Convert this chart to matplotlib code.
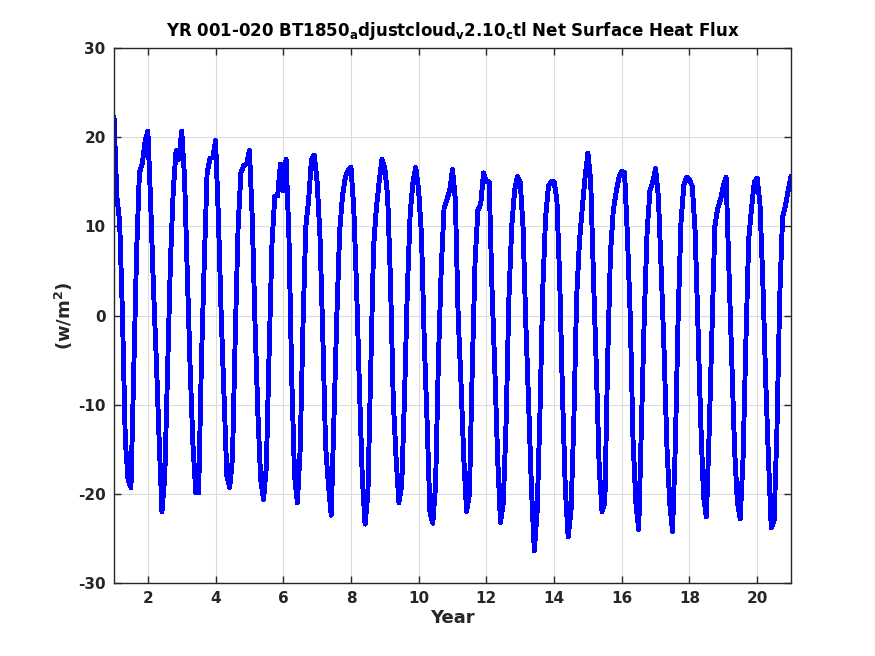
import numpy as np
import matplotlib
matplotlib.use("Agg")
import matplotlib.pyplot as plt

# monthly net surface heat flux (w/m^2), one row per model year, Jan..Dec
yr01 = [22.2, 13.4, 10.5, 0, -14, -18.5, -19.3, -6, 7, 16, 17, 19.5]
yr02 = [20.7, 12.5, 3, -5, -14, -22, -18, -6, 6, 14, 18.5, 17.5]
yr03 = [20.7, 15.5, 4.5, -6, -14.6, -19.9, -19.9, -5, 6, 16, 17.6, 17.7]
yr04 = [19.6, 11, 0, -9, -18, -19.3, -16, -2, 10, 16, 16.8, 17]
yr05 = [18.5, 11, -1, -11, -18.4, -20.6, -17, -4, 8, 13.4, 13.4, 17]
yr06 = [14, 17.5, 9, -7, -18, -21, -15, -1, 10, 13, 17.5, 18]
yr07 = [15, 9, -2, -14.6, -19, -22.4, -11, 0, 9.5, 13.4, 15.5, 16.3]
yr08 = [16.6, 12, 3, -8, -18, -23.4, -20, -6, 7.6, 12, 15, 17.5]
yr09 = [16.5, 13.4, 4, -9.5, -16, -21, -19, -9, 3, 11.5, 15, 16.6]
yr10 = [14, 9, -3, -12, -22, -23.3, -19, -5, 5.2, 12, 13, 14]
yr11 = [16.4, 13, 0, -7.5, -16, -22, -20, -6, 6, 11.8, 12.5, 16]
yr12 = [15, 15, 3, -6, -16, -23.2, -21, -12, 2, 10, 14, 15.6]
yr13 = [15, 10, -1, -10, -19.5, -26.4, -22, -11, 3, 11, 14.5, 15]
yr14 = [15, 13, 4, -9, -19.5, -24.8, -22, -12, 2, 8.3, 12, 15.5]
yr15 = [18.2, 15, 4, -6, -17, -22, -21, -5, 7, 11.8, 13.8, 15.5]
yr16 = [16.2, 16, 9, 0, -14, -21, -24, -12, 0, 9.5, 14, 15]
yr17 = [16.5, 13.2, 5, -4, -14.6, -21, -24.2, -14.5, 0, 10.5, 14.6, 15.5]
yr18 = [15.2, 14.5, 9.5, -1, -12, -20.3, -22.6, -13, -1.5, 10, 12, 13]
yr19 = [14.5, 15.5, 5, -5, -15, -21, -22.8, -16, -3, 8.5, 12, 15]
yr20 = [15.4, 12.5, 4, -7, -16, -23.8, -23, -13, 2, 11, 12.3, 14]
last_value = [15.6]

flux = np.array(yr01 + yr02 + yr03 + yr04 + yr05 + yr06 + yr07 + yr08 + yr09 + yr10
                + yr11 + yr12 + yr13 + yr14 + yr15 + yr16 + yr17 + yr18 + yr19 + yr20
                + last_value)
year = 1 + np.arange(len(flux)) / 12.0

xticks = [2, 4, 6, 8, 10, 12, 14, 16, 18, 20]
yticks = [-30, -20, -10, 0, 10, 20, 30]

fg = "#262626"
plt.rcParams["font.family"] = "DejaVu Sans"
plt.rcParams["font.weight"] = "bold"
plt.rcParams["axes.unicode_minus"] = False

fig = plt.figure(figsize=(8.75, 6.56), dpi=100)
ax = fig.add_axes([0.1303, 0.1113, 0.7737, 0.8155])

ax.plot(year, flux, color="#0000ff", linewidth=2.8, antialiased=False)

ax.set_xlim(1, 21)
ax.set_ylim(-30, 30)
ax.set_xticks(xticks)
ax.set_yticks(yticks)
ax.grid(True, color="#dcdcdc", linewidth=0.8)
ax.set_axisbelow(True)

ax.tick_params(direction="in", top=True, right=True, length=5, width=1,
               colors=fg, labelsize=11, pad=6)
for lab in ax.get_xticklabels() + ax.get_yticklabels():
    lab.set_fontweight("bold")
for sp in ax.spines.values():
    sp.set_color(fg)
    sp.set_linewidth(1)

ax.set_title(r"YR 001-020 BT1850$_\mathbf{a}$djustcloud$_\mathbf{v}$2.10$_\mathbf{c}$tl Net Surface Heat Flux",
             fontsize=12, fontweight="bold", color="black", pad=9)
ax.set_xlabel("Year", fontsize=13, fontweight="bold", color=fg, labelpad=2)
ax.set_ylabel(r"(w/m$^\mathbf{2}$)", fontsize=13, fontweight="bold", color=fg, labelpad=2)

fig.savefig("out.png", dpi=100)
